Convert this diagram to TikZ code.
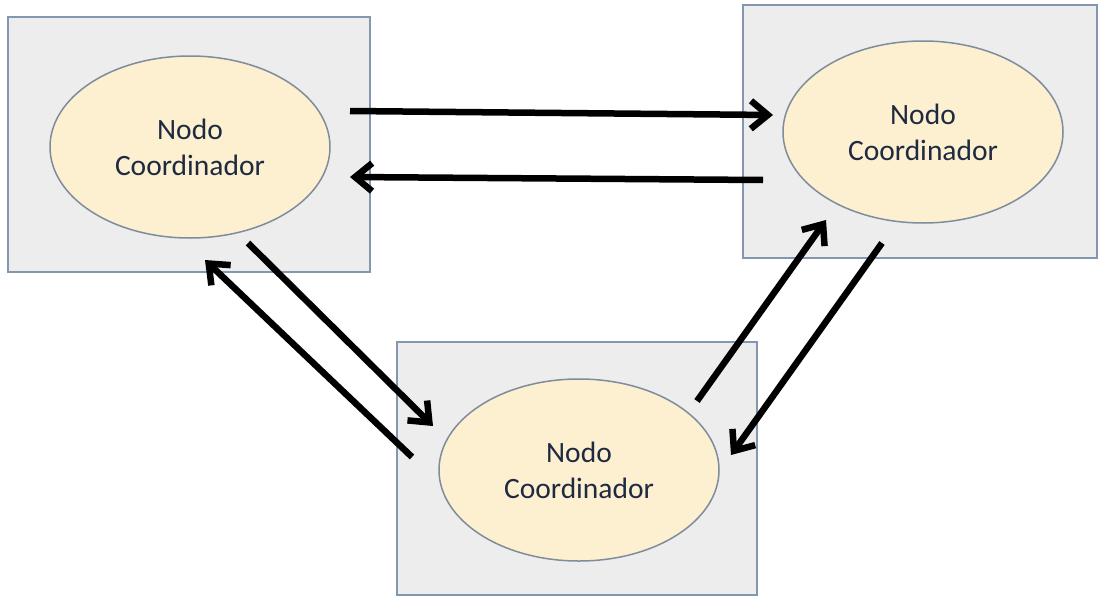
\documentclass[tikz,border=0pt]{standalone}
\usepackage{fontspec}
\setmainfont{Carlito}
\usetikzlibrary{arrows.meta,shapes.geometric}
\definecolor{boxfill}{HTML}{EDEDED}
\definecolor{boxline}{HTML}{8497B0}
\definecolor{ellfill}{HTML}{FDF0D0}
\definecolor{ellline}{HTML}{7F8C9C}
\definecolor{txt}{HTML}{1F2A40}
\tikzset{
  panel/.style={draw=boxline,fill=boxfill,line width=1.5pt},
  nodoell/.style={ellipse,draw=ellline,fill=ellfill,line width=1.5pt,
    minimum width=280pt,minimum height=182pt,inner sep=0pt,
    text=txt,font=\fontsize{29.5}{36}\selectfont,align=center},
  flow/.style={line width=6.5pt,-{Straight Barb[length=17pt,width=28pt,line width=6.5pt]}}
}
\begin{document}
\begin{tikzpicture}[x=1pt,y=-1pt]
\useasboundingbox[fill=white] (0,0) rectangle (1099,597);
\path[panel] (8,17) rectangle (370,272);
\path[panel] (743,5) rectangle (1097,258);
\path[panel] (397,342) rectangle (757,595);
\node[nodoell] (A) at (190,147) {Nodo\\Coordinador};
\node[nodoell] (B) at (923,132) {Nodo\\Coordinador};
\node[nodoell] (C) at (579,470) {Nodo\\Coordinador};
\coordinate (a1) at (350,111);
\coordinate (b1) at (773,115);
\coordinate (b2) at (763,180);
\coordinate (a2) at (350,177);
\coordinate (a3) at (248,243);
\coordinate (c3) at (433,426);
\coordinate (c4) at (412,457);
\coordinate (a4) at (205,260);
\coordinate (c5) at (697,401);
\coordinate (b5) at (826,220);
\coordinate (b6) at (882,243);
\coordinate (c6) at (731,455);
\draw[flow] (a1) -- (b1);
\draw[flow] (b2) -- (a2);
\draw[flow] (a3) -- (c3);
\draw[flow] (c4) -- (a4);
\draw[flow] (c5) -- (b5);
\draw[flow] (b6) -- (c6);
\end{tikzpicture}
\end{document}
